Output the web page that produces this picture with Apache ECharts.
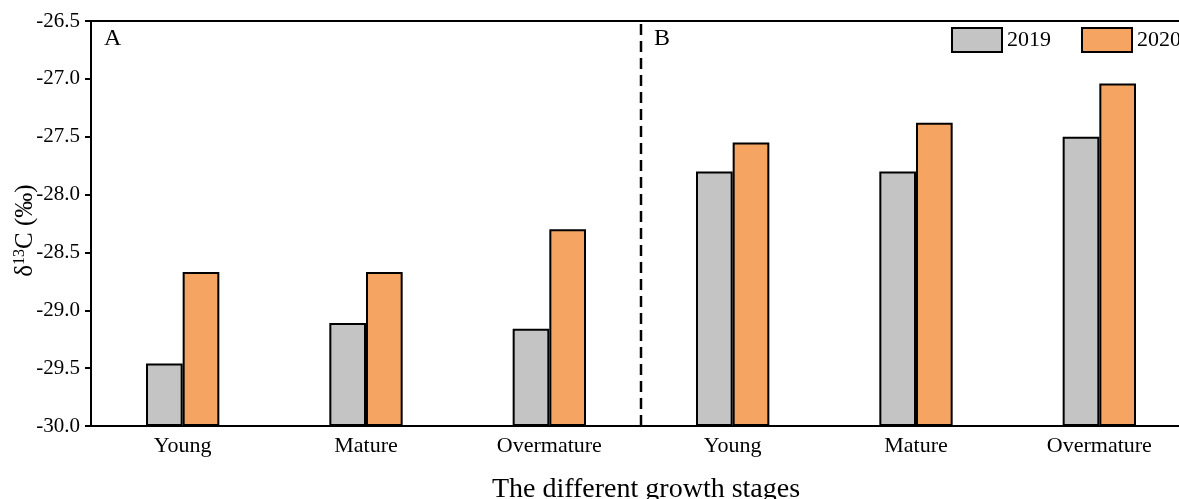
<!DOCTYPE html>
<html>
<head>
<meta charset="utf-8">
<title>δ13C by growth stage</title>
<script src="https://cdn.jsdelivr.net/npm/echarts@6/dist/echarts.min.js"></script>
<style>
  html, body { margin: 0; padding: 0; background: #ffffff; }
  #chart { width: 1179px; height: 499px; }
</style>
</head>
<body>
<div id="chart"></div>
<script>
// Growth stages, repeated for site A and site B
const panels = ['A', 'B'];
const stages = ['Young', 'Mature', 'Overmature'];

// δ13C (‰) per stage, A then B
const values2019 = [-29.46, -29.11, -29.16, -27.80, -27.80, -27.50];
const values2020 = [-28.67, -28.67, -28.30, -27.55, -27.38, -27.04];

// Y axis ticks
const yMin = -30.0;
const yMax = -26.5;
const yStep = 0.5;

// Position (in category units) of the A | B divider
const dividerAt = 3;

const categories = [];
panels.forEach(p => stages.forEach(s => categories.push(p + '|' + s)));

const serif = '"Liberation Serif", "Times New Roman", serif';
const chart = echarts.init(document.getElementById('chart'), null, { renderer: 'canvas' });

chart.setOption({
  backgroundColor: '#ffffff',
  animation: false,
  textStyle: { fontFamily: serif, color: '#000' },
  grid: {
    left: 91, top: 21, width: 1100, height: 405,
    outerBoundsMode: 'none', containLabel: false,
    show: true, borderColor: '#000', borderWidth: 2, backgroundColor: 'transparent'
  },
  legend: {
    left: 951, top: 27, width: 400, orient: 'horizontal', padding: 0,
    icon: 'rect',
    itemWidth: 50, itemHeight: 24, itemGap: 30,
    textStyle: { fontFamily: serif, fontSize: 22, color: '#000' },
    data: ['2019', '2020']
  },
  xAxis: [{
    type: 'category',
    data: categories,
    boundaryGap: true,
    name: 'The different growth stages',
    nameLocation: 'middle',
    nameGap: 50,
    nameMoveOverlap: false,
    nameTextStyle: { fontFamily: serif, fontSize: 28, color: '#000', padding: [0, 0, 0, 10] },
    axisLine: { lineStyle: { color: '#000', width: 2 } },
    axisTick: { alignWithLabel: true, length: 6, interval: 0, lineStyle: { color: '#000', width: 2 } },
    axisLabel: {
      interval: 0, margin: 9, fontFamily: serif, fontSize: 22, color: '#000',
      formatter: v => v.split('|')[1]
    },
    splitLine: { show: false }
  }, {
    type: 'value', min: 0, max: categories.length, show: false
  }],
  yAxis: {
    type: 'value',
    min: yMin, max: yMax, interval: yStep, startValue: yMin,
    name: '{a|δ}{sup|13}{a|C (‰)}',
    nameLocation: 'middle',
    nameGap: 53,
    nameRotate: 90,
    nameMoveOverlap: false,
    nameTextStyle: {
      padding: [0, 14, 0, 0],
      rich: {
        a: { fontFamily: serif, fontStyle: 'normal', fontSize: 25, color: '#000' },
        sup: { fontFamily: serif, fontStyle: 'normal', fontSize: 16, color: '#000', verticalAlign: 'top', padding: [0, 0, 10, 0] }
      }
    },
    axisLine: { show: true, lineStyle: { color: '#000', width: 2 } },
    axisTick: { show: true, length: 6, lineStyle: { color: '#000', width: 2 } },
    axisLabel: { margin: 11, fontFamily: serif, fontSize: 21, color: '#000', formatter: v => v.toFixed(1) },
    splitLine: { show: false }
  },
  graphic: [
    { type: 'text', left: 104, top: 27, style: { text: 'A', font: '24px ' + serif, fill: '#000' } },
    { type: 'text', left: 654, top: 27, style: { text: 'B', font: '24px ' + serif, fill: '#000' } }
  ],
  series: [{
    name: '2019', type: 'bar',
    data: values2019,
    barGap: 0, barCategoryGap: '60%',
    itemStyle: { color: '#C4C4C4', borderColor: '#000', borderWidth: 2 }
  }, {
    name: '2020', type: 'bar',
    data: values2020,
    barGap: 0, barCategoryGap: '60%',
    itemStyle: { color: '#F5A462', borderColor: '#000', borderWidth: 2 }
  }, {
    name: 'divider', type: 'line',
    xAxisIndex: 1,
    data: [[dividerAt, yMin], [dividerAt, yMax]],
    symbol: 'none', silent: true,
    lineStyle: { color: '#000', width: 2.5, type: [11, 6] }
  }]
});
</script>
</body>
</html>
